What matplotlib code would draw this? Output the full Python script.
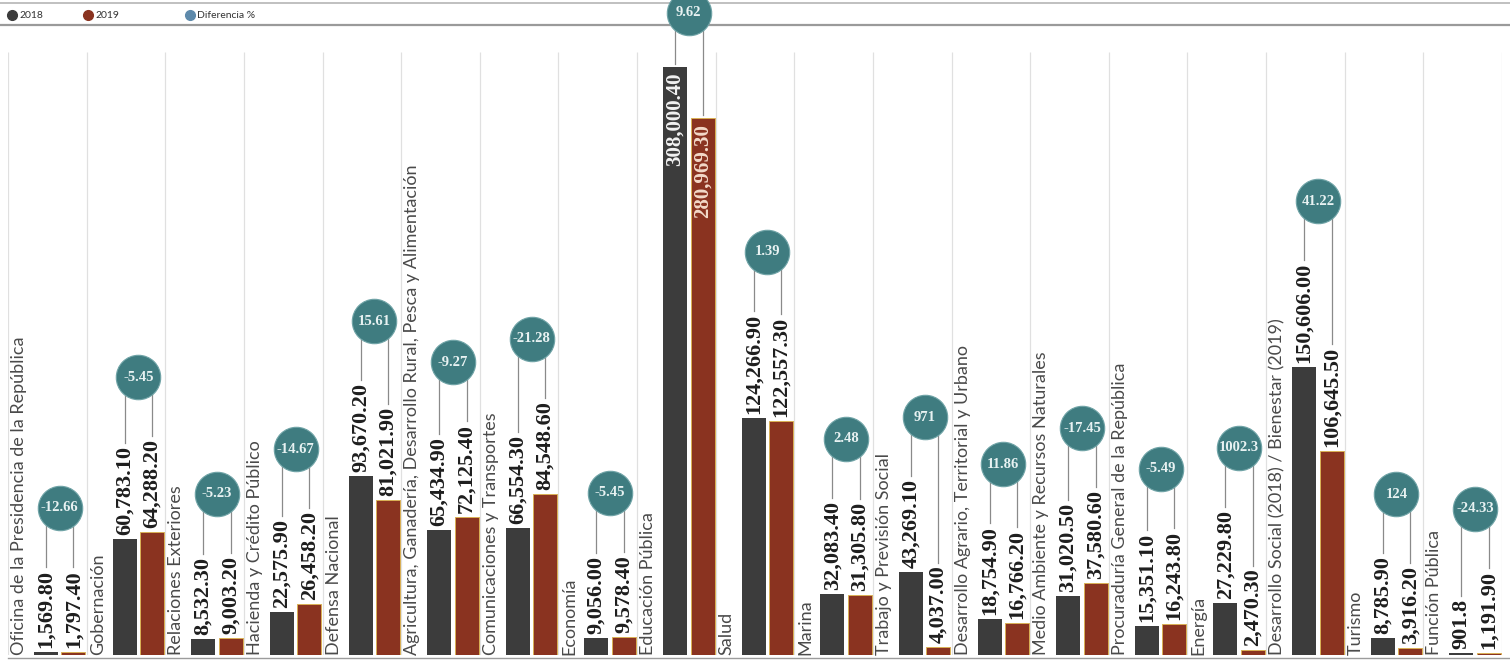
import matplotlib
matplotlib.use("Agg")
import matplotlib.pyplot as plt
import numpy as np

# ---------------- data ----------------
categories = [
    "Oficina de la Presidencia de la República",
    "Gobernación",
    "Relaciones Exteriores",
    "Hacienda y Crédito Público",
    "Defensa Nacional",
    "Agricultura, Ganadería, Desarrollo Rural, Pesca y Alimentación",
    "Comunicaciones y Transportes",
    "Economía",
    "Educación Pública",
    "Salud",
    "Marina",
    "Trabajo y Previsión Social",
    "Desarrollo Agrario, Territorial y Urbano",
    "Medio Ambiente y Recursos Naturales",
    "Procuraduría General de la República",
    "Energía",
    "Desarrollo Social (2018) / Bienestar (2019)",
    "Turismo",
    "Función Pública",
]
values_2018 = [1569.80, 60783.10, 8532.30, 22575.90, 93670.20, 65434.90, 66554.30,
               9056.00, 308000.40, 124266.90, 32083.40, 43269.10, 18754.90, 31020.50,
               15351.10, 27229.80, 150606.00, 8785.90, 901.8]
values_2019 = [1797.40, 64288.20, 9003.20, 26458.20, 81021.90, 72125.40, 84548.60,
               9578.40, 280969.30, 122557.30, 31305.80, 4037.00, 16766.20, 37580.60,
               16243.80, 2470.30, 106645.50, 3916.20, 1191.90]
labels_2018 = ["1,569.80", "60,783.10", "8,532.30", "22,575.90", "93,670.20", "65,434.90",
               "66,554.30", "9,056.00", "308,000.40", "124,266.90", "32,083.40", "43,269.10",
               "18,754.90", "31,020.50", "15,351.10", "27,229.80", "150,606.00", "8,785.90",
               "901.8"]
labels_2019 = ["1,797.40", "64,288.20", "9,003.20", "26,458.20", "81,021.90", "72,125.40",
               "84,548.60", "9,578.40", "280,969.30", "122,557.30", "31,305.80", "4,037.00",
               "16,766.20", "37,580.60", "16,243.80", "2,470.30", "106,645.50", "3,916.20",
               "1,191.90"]
diff_pct = ["-12.66", "-5.45", "-5.23", "-14.67", "15.61", "-9.27", "-21.28", "-5.45",
            "9.62", "1.39", "2.48", "971", "11.86", "-17.45", "-5.49", "1002.3", "41.22",
            "124", "-24.33"]
legend_labels = ["2018", "2019", "Diferencia %"]
inside_label_groups = ["Educación Pública"]

# ---------------- style ----------------
C_2018 = "#3c3c3c"
C_2019 = "#8a3320"
C_EDGE19 = "#d9b055"
C_DIFF = "#3f7c80"
C_LEG_DIFF = "#5e8aab"
SERIF = ["Liberation Serif", "DejaVu Serif"]
SANS = ["Lato", "Open Sans", "DejaVu Sans"]

W, H = 1510, 667
DPI = 100
PX_PER_K = 1.91          # pixels per thousand
BASE_PX = 655            # baseline pixel row from top
X0_PX, X1_PX = 8, 1502
n = len(categories)
GW = (X1_PX - X0_PX) / n  # group width in px

fig = plt.figure(figsize=(W / DPI, H / DPI), dpi=DPI)
fig.patch.set_facecolor("white")

# overlay axes in pixel coordinates for header decoration
ov = fig.add_axes([0, 0, 1, 1])
ov.set_xlim(0, W)
ov.set_ylim(H, 0)
ov.axis("off")
ov.set_zorder(0)

ax = fig.add_axes([X0_PX / W, (H - BASE_PX) / H, (X1_PX - X0_PX) / W, BASE_PX / H])
ax.set_zorder(1)
ax.patch.set_visible(False)
ax.set_xlim(0, n)
ymax = BASE_PX / PX_PER_K * 1000
ax.set_ylim(0, ymax)
ax.axis("off")

px_y = 1000 / PX_PER_K      # data units per vertical pixel
px_x = 1.0 / GW             # data units per horizontal pixel

OFF_LABEL = 11 * px_x
OFF_2018 = 38 * px_x
OFF_2019 = 65.5 * px_x
BW = 24 * px_x

idx = np.arange(n)
x18 = idx + OFF_2018
x19 = idx + OFF_2019

# header lines and legend
ov.plot([0, W], [3, 3], color="#b5b5b5", lw=1.2)
ov.plot([0, W], [25, 25], color="#9a9a9a", lw=1.6)
leg_x = [12, 88, 190]
leg_c = [C_2018, C_2019, C_LEG_DIFF]
for lx, lc, lt in zip(leg_x, leg_c, legend_labels):
    ov.plot(lx, 15, marker="o", ms=7, color=lc, mec=lc)
    ov.text(lx + 7, 15.5, lt, fontsize=7.5, family=SANS, color="#333", va="center", ha="left")

# separators and baseline
ax.vlines(np.arange(n + 1), -6 * px_y, (BASE_PX - 52) * px_y, color="#e0e0e0", lw=0.9, zorder=0)
ax.plot([0, n + 8 * px_x], [-3 * px_y, -3 * px_y], color="#9c9c9c", lw=1.0, clip_on=False, zorder=1)

# bars
ax.bar(x18, values_2018, width=BW, color=C_2018, zorder=2)
ax.bar(x19, values_2019, width=BW, color=C_2019, edgecolor=C_EDGE19, linewidth=0.7, zorder=2)

# category labels
for i, cat in enumerate(categories):
    ax.text(i + OFF_LABEL, 0, cat, rotation=90, ha="center", va="bottom",
            family=SANS, fontweight="normal", fontsize=13, color="#4a4a4a", zorder=3)

fig.canvas.draw()
renderer = fig.canvas.get_renderer()
inv = ax.transData.inverted()

VAL_FS = 16
GAP = 4 * px_y
for i in range(n):
    inside = categories[i] in inside_label_groups
    tops = []
    for xc, v, lab, col_in in ((x18[i], values_2018[i], labels_2018[i], "#f2f2f2"),
                               (x19[i], values_2019[i], labels_2019[i], "#f3d9c8")):
        if inside:
            ax.text(xc, v - 6 * px_y, lab, rotation=90, ha="center", va="top",
                    family=SERIF, fontweight="bold", fontsize=VAL_FS - 1, color=col_in, zorder=4)
            tops.append(v)
        else:
            t = ax.text(xc, v + GAP, lab, rotation=90, ha="center", va="bottom",
                        family=SERIF, fontweight="bold", fontsize=VAL_FS, color="#1e1e1e", zorder=4)
            bb = t.get_window_extent(renderer)
            top_data = inv.transform((bb.x0, bb.y1))[1]
            tops.append(top_data)
    lift = 54 if inside else 62
    cy = max(tops) + lift * px_y
    for xc, tp in zip((x18[i], x19[i]), tops):
        ax.plot([xc, xc], [tp + 3 * px_y, cy], color="#8a8a8a", lw=0.9, zorder=3, clip_on=False)
    cx = i + (OFF_2018 + OFF_2019) / 2
    ax.plot(cx, cy, marker="o", ms=32, color=C_DIFF, mec="#6fa3a6", mew=0.8, zorder=5, clip_on=False)
    ax.text(cx, cy, diff_pct[i], ha="center", va="center", family=SERIF, fontweight="bold",
            fontsize=10.5, color="#e8f2f2", zorder=6, clip_on=False)

fig.savefig("out.png", dpi=DPI, facecolor="white")
